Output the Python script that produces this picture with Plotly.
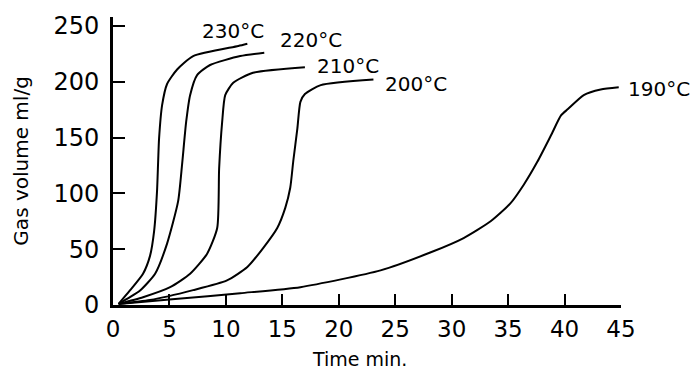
import plotly.graph_objects as go

# Data (time in min, gas volume in ml/g)
t230 = [0.5, 1.5, 2.66, 3.28, 3.64, 3.9, 4.0, 4.08, 4.35, 4.79, 5.68, 7.1, 11.1, 11.9]
v230 = [1, 13, 28, 44, 66, 102, 129, 149, 179, 198, 211, 223, 232, 234]

t220 = [0.5, 1.5, 2.4, 3.73, 4.79, 5.77, 6.12, 6.48, 6.83, 7.45, 8.6, 11.27, 13.4]
v220 = [1, 7, 13, 28, 55, 93, 126, 164, 188, 206, 215, 223, 226]

t210 = [0.5, 2.66, 5.06, 6.83, 8.34, 9.23, 9.4, 9.67, 9.94, 10.65, 12.4, 17.0]
v210 = [1, 7, 16, 28, 46, 69, 122, 164, 188, 199, 208, 213]

t200 = [0.5, 3.28, 7.1, 10.1, 11.9, 13.3, 14.55, 15.26, 15.7, 15.97, 16.33, 16.6, 17.0, 18.4, 23.07]
v200 = [1, 4.4, 13.3, 22, 34, 51, 69, 87, 105, 129, 158, 182, 189, 197, 202]

t190 = [0.5, 5.5, 11.27, 16.6, 23.7, 28.1, 31.06, 33.45, 35.2, 36.4, 37.6, 38.8, 39.7, 40.3, 41.7, 43.2, 44.8]
v190 = [1, 5.3, 10.6, 16, 31, 47, 60, 75, 91, 108, 128.5, 152, 170, 175.5, 188, 193, 195]

labels = ["230°C", "220°C", "210°C", "200°C", "190°C"]
x_ticks = [0, 5, 10, 15, 20, 25, 30, 35, 40, 45]
y_ticks = [0, 50, 100, 150, 200, 250]

X_RANGE = [0, 45]
Y_RANGE = [0, 258]

series = [(t230, v230), (t220, v220), (t210, v210), (t200, v200), (t190, v190)]
# label anchor positions (left edge, vertical centre) in data units
label_pos = [(7.72, 245.6), (14.64, 237.6), (17.92, 214.5), (23.96, 197.7), (45.43, 193.3)]

FONT = "DejaVu Sans"

fig = go.Figure()
for (tx, vy), name in zip(series, labels):
    fig.add_trace(go.Scatter(x=tx, y=vy, mode="lines", name=name,
                             line=dict(color="black", width=2, shape="spline", smoothing=0.6),
                             showlegend=False, hoverinfo="skip"))

for name, (lx, ly) in zip(labels, label_pos):
    fig.add_annotation(x=(lx - X_RANGE[0]) / (X_RANGE[1] - X_RANGE[0]),
                       y=(ly - Y_RANGE[0]) / (Y_RANGE[1] - Y_RANGE[0]),
                       xref="paper", yref="paper", text=name, showarrow=False,
                       xanchor="left", yanchor="middle",
                       font=dict(family=FONT, size=20, color="black"))

fig.add_annotation(x=-0.181, y=0.498, xref="paper", yref="paper", text="Gas volume ml/g",
                   textangle=-90, showarrow=False, xanchor="center", yanchor="middle",
                   font=dict(family=FONT, size=20, color="black"))
fig.add_annotation(x=0.485, y=-0.232, xref="paper", yref="paper", text="Time min.",
                   showarrow=False, xanchor="center", yanchor="bottom",
                   font=dict(family=FONT, size=19, color="black"))

fig.update_layout(
    width=690, height=369,
    margin=dict(l=113, r=69, t=14, b=64),
    plot_bgcolor="white", paper_bgcolor="white",
    font=dict(family=FONT, color="black"),
)
fig.update_xaxes(range=X_RANGE, tickvals=x_ticks, ticktext=[str(v) for v in x_ticks],
                 showgrid=False, zeroline=False, showline=True, linecolor="black", linewidth=3,
                 ticks="inside", ticklen=11, tickwidth=2, tickcolor="black",
                 tickfont=dict(family=FONT, size=23, color="black"), ticklabelstandoff=1)
fig.update_yaxes(range=Y_RANGE, tickvals=y_ticks, ticktext=[str(v) for v in y_ticks],
                 showgrid=False, zeroline=False, showline=True, linecolor="black", linewidth=3,
                 ticks="inside", ticklen=12, tickwidth=2, tickcolor="black",
                 tickfont=dict(family=FONT, size=24, color="black"), ticklabelstandoff=6)

fig.write_html("out.html", config={"displayModeBar": False},
               post_script="document.body.style.margin='0';")
